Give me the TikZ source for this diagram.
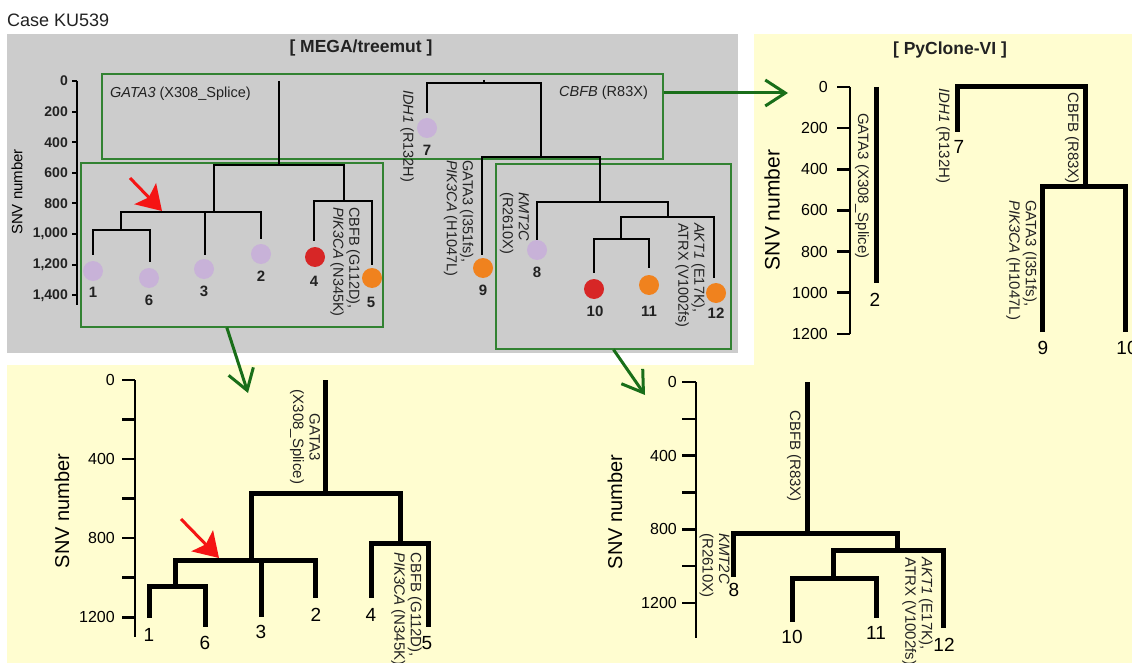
\documentclass[tikz,border=0pt]{standalone}
\usepackage{fontspec}
\setmainfont{Liberation Sans}
\usetikzlibrary{arrows.meta,calc}
\definecolor{gpanel}{RGB}{204,204,204}
\definecolor{ypanel}{RGB}{255,253,208}
\definecolor{lav}{RGB}{200,178,216}
\definecolor{redc}{RGB}{215,38,38}
\definecolor{orc}{RGB}{240,130,30}
\definecolor{gboxc}{RGB}{50,130,50}
\definecolor{garrowc}{RGB}{25,110,25}
\definecolor{rarrowc}{RGB}{245,20,20}
\definecolor{tdark}{RGB}{34,34,34}
\newcommand{\myfs}[1]{\fontsize{#1}{#1}\selectfont}
\begin{document}
\begin{tikzpicture}[x=1pt,y=-1pt,
  tl/.style={line width=1.8pt, line join=miter},
  pl/.style={line width=5pt, line join=miter},
  axm/.style={line width=2pt},
  axy/.style={line width=2.6pt},
  leafc/.style={circle, inner sep=0pt, minimum size=20pt},
  mnum/.style={font=\bfseries\myfs{15}, text=tdark, inner sep=0pt},
  ynum/.style={font=\myfs{19}, text=black, inner sep=0pt},
  mtick/.style={font=\bfseries\myfs{14}, text=tdark, anchor=east, inner sep=0pt},
  ytick/.style={font=\myfs{16}, text=black, anchor=east, inner sep=0pt},
  mgl/.style={font=\fontsize{14.5}{16}\selectfont, text=tdark, rotate=-90, anchor=west, align=left, inner sep=0pt},
  ygl/.style={font=\fontsize{15}{16.5}\selectfont, text=tdark, rotate=-90, anchor=west, align=left, inner sep=0pt},
  gboxs/.style={draw=gboxc, line width=1.2pt, inner sep=0pt},
  garrow/.style={draw=garrowc, line width=3pt, -{Straight Barb[length=20pt,width=26pt]}},
  rarrow/.style={draw=rarrowc, line width=3pt, -{Stealth[length=24pt,width=30pt,inset=5pt]}},
  snv/.style={rotate=90, inner sep=0pt, text=black}
]
\useasboundingbox (0,0) rectangle (1132,663);
\clip (0,0) rectangle (1132,663);
\fill[white] (0,0) rectangle (1132,663);
\fill[gpanel] (7,34) rectangle (738,353);
\fill[ypanel] (754,34) rectangle (1132,365);
\fill[ypanel] (7,365) rectangle (1132,663);

% headings
\node[anchor=west, inner sep=0pt, font=\myfs{18}, text=tdark] (case) at (7,20) {Case KU539};
\node[inner sep=0pt, font=\bfseries\myfs{17.5}, text=tdark] (tmega) at (361,48) {[ MEGA/treemut ]};
\node[inner sep=0pt, font=\bfseries\myfs{17.5}, text=tdark] (tpy) at (950,50) {[ PyClone-VI ]};

% ===== MEGA panel =====
\node[gboxs, minimum width=561pt, minimum height=85pt] (topbox) at (382.5,116.5) {};
\node[gboxs, minimum width=302pt, minimum height=164pt] (leftbox) at (232,245) {};
\node[gboxs, minimum width=235pt, minimum height=185pt] (rightbox) at (613.5,256.5) {};

\coordinate (max0) at (76.5,81);
\coordinate (max1) at (76.5,305);
\draw[axm] (max0) -- (max1);
\foreach \v/\l in {0/0,200/200,400/400,600/600,800/800,1000/{1,000},1200/{1,200},1400/{1,400}} {
  \coordinate (mt\v) at (76.5,81+\v*0.153);
  \draw[axm] (mt\v) -- ++(-4.5,0);
  \node[mtick] (mtl\v) at (68,81+\v*0.153) {\l};
}
\node[snv, font=\myfs{15}] (msnv) at (17,192) {SNV number};

\node[anchor=west, inner sep=0pt, font=\myfs{14.5}, text=tdark] (mg1) at (110,94) {\textit{GATA3} (X308\_Splice)};
\node[anchor=west, inner sep=0pt, font=\myfs{14.5}, text=tdark] (mg2) at (559,93) {\textit{CBFB} (R83X)};

% left MEGA subtree
\coordinate (m0) at (279,81);
\coordinate (mA) at (279,165);
\coordinate (mB) at (214,212);
\coordinate (mC) at (344,201);
\coordinate (mD) at (121,230);
\coordinate (ml1) at (93,255);
\coordinate (ml6) at (150,262);
\coordinate (ml3) at (205,255);
\coordinate (ml2) at (261,239);
\coordinate (ml4) at (314,241);
\coordinate (ml5) at (372,265);
\draw[tl] (m0) -- (mA) (mA) -| (mB) (mA) -| (mC) (mB) -| (mD) (mB) -| (ml3) (mB) -| (ml2)
  (mD) -| (ml1) (mD) -| (ml6) (mC) -| (ml4) (mC) -| (ml5);

% right MEGA subtree
\coordinate (n0) at (484,80);
\coordinate (nR) at (484,83);
\coordinate (ml7) at (427,113);
\coordinate (nE) at (541,157);
\coordinate (ml9) at (482,255);
\coordinate (nF) at (600,202);
\coordinate (ml8) at (537,240);
\coordinate (nG) at (668,217);
\coordinate (nH) at (621,239);
\coordinate (ml12) at (714,278);
\coordinate (ml10) at (594,273);
\coordinate (ml11) at (649,268);
\draw[tl] (n0) -- (nR) (nR) -| (ml7) (nR) -| (nE) (nE) -| (ml9) (nE) -| (nF) (nF) -| (ml8)
  (nF) -| (nG) (nG) -| (nH) (nG) -| (ml12) (nH) -| (ml10) (nH) -| (ml11);

% circles
\node[leafc, fill=lav] (c1) at (93,271) {};
\node[leafc, fill=lav] (c6) at (149,278) {};
\node[leafc, fill=lav] (c3) at (204,269) {};
\node[leafc, fill=lav] (c2) at (261,254) {};
\node[leafc, fill=redc] (c4) at (315,257) {};
\node[leafc, fill=orc] (c5) at (372,278) {};
\node[leafc, fill=lav] (c7) at (427,128) {};
\node[leafc, fill=orc] (c9) at (483,268) {};
\node[leafc, fill=lav] (c8) at (537,250) {};
\node[leafc, fill=redc] (c10) at (594,289) {};
\node[leafc, fill=orc] (c11) at (649,285) {};
\node[leafc, fill=orc] (c12) at (716,293) {};

\node[mnum] (n1) at (93,292) {1};
\node[mnum] (n6) at (149,300) {6};
\node[mnum] (n3) at (204,291) {3};
\node[mnum] (n2) at (261,276) {2};
\node[mnum] (n4) at (314,281) {4};
\node[mnum] (n5) at (371,302) {5};
\node[mnum] (n7) at (427,150) {7};
\node[mnum] (n9) at (483,290) {9};
\node[mnum] (n8) at (537,272) {8};
\node[mnum] (n10) at (595,311) {10};
\node[mnum] (n11) at (649,311) {11};
\node[mnum] (n12) at (716,313) {12};

\node[mgl] (mlab7) at (407,90) {\textit{IDH1} (R132H)};
\node[mgl] (mlab45) at (345,207) {CBFB (G112D),\\\textit{PIK3CA} (N345K)};
\node[mgl] (mlab9) at (458.5,160) {GATA3 (I351fs),\\\textit{PIK3CA} (H1047L)};
\node[mgl] (mlab8) at (514.5,192) {\textit{KMT2C}\\(R2610X)};
\node[mgl] (mlab12) at (690,223) {\textit{AKT1} (E17K),\\ATRX (V1002fs)};

\coordinate (ra1s) at (130,178);
\coordinate (ra1e) at (162,211);
\draw[rarrow] (ra1s) -- (ra1e);

% ===== PyClone panel =====
\coordinate (pax0) at (850,87);
\coordinate (pax1) at (850,334);
\draw[axy] (pax0) -- (pax1);
\foreach \v in {0,200,400,600,800,1000,1200} {
  \coordinate (pt\v) at (850,87+\v*0.2058);
  \draw[axy] (pt\v) -- ++(-13,0);
  \node[ytick] (ptl\v) at (828,87+\v*0.2058) {\v};
}
\node[snv, font=\myfs{21}] (psnv) at (772,210) {SNV number};

\coordinate (p2top) at (876,87);
\coordinate (p2) at (876,283);
\draw[pl] (p2top) -- (p2);
\coordinate (pR) at (1021,87);
\coordinate (p7) at (957,132);
\coordinate (pE) at (1085,187);
\coordinate (p9) at (1042,332);
\coordinate (p10) at (1125,332);
\draw[pl] (p7) |- (pR) -| (pE);
\draw[pl] (p9) |- (pE) -| (p10);

\node[ynum] (pn2) at (875,300) {2};
\node[ynum] (pn7) at (959,147) {7};
\node[ynum] (pn9) at (1043,348) {9};
\node[ynum] (pn10) at (1127,348) {10};

\node[ygl] (pl2) at (862,113) {GATA3 (X308\_Splice)};
\node[ygl] (pl7) at (943,88) {\textit{IDH1} (R132H)};
\node[ygl] (plE) at (1072,92) {CBFB (R83X)};
\node[ygl] (pl9) at (1021.5,200) {GATA3 (I351fs),\\\textit{PIK3CA} (H1047L)};

% ===== bottom-left panel =====
\coordinate (bax0) at (135,380);
\coordinate (bax1) at (135,637);
\draw[axy] (bax0) -- (bax1);
\foreach \v in {0,200,400,600,800,1000,1200} {
  \coordinate (bt\v) at (135,380+\v*0.1977);
  \draw[axy] (bt\v) -- ++(-13,0);
}
\foreach \v in {0,400,800,1200} {
  \node[ytick] (btl\v) at (115,380+\v*0.1977) {\v};
}
\node[snv, font=\myfs{20}] (bsnv) at (62,511) {SNV number};

\coordinate (b0) at (325,380);
\coordinate (bA) at (325,493);
\coordinate (bB) at (251,560);
\coordinate (bC) at (400,543);
\coordinate (bD) at (175,586);
\coordinate (b1) at (149,618);
\coordinate (b6) at (205,627);
\coordinate (b3) at (261,617);
\coordinate (b2) at (315,598);
\coordinate (b4) at (371,598);
\coordinate (b5) at (428,627);
\draw[pl] (b0) -- (bA) (bA) -| (bB) (bA) -| (bC) (bB) -| (bD) (bB) -| (b3) (bB) -| (b2)
  (bC) -| (b4) (bC) -| (b5) (bD) -| (b1) (bD) -| (b6);

\node[ynum] (bn1) at (149,635) {1};
\node[ynum] (bn6) at (205,643) {6};
\node[ynum] (bn3) at (261,632) {3};
\node[ynum] (bn2) at (316,615) {2};
\node[ynum] (bn4) at (371,615) {4};
\node[ynum] (bn5) at (427,643) {5};

\node[ygl, anchor=center, align=center] (blg) at (305,437) {GATA3\\(X308\_Splice)};
\node[ygl] (bl45) at (406.5,552) {CBFB (G112D),\\\textit{PIK3CA} (N345K)};

\coordinate (ra2s) at (181,519);
\coordinate (ra2e) at (219,558);
\draw[rarrow] (ra2s) -- (ra2e);

% ===== bottom-right panel =====
\coordinate (rax0) at (696,382);
\coordinate (rax1) at (696,638);
\draw[axy] (rax0) -- (rax1);
\foreach \v in {0,200,400,600,800,1000,1200} {
  \coordinate (rt\v) at (696,382+\v*0.184);
  \draw[axy] (rt\v) -- ++(-14,0);
}
\foreach \v in {0,400,800,1200} {
  \node[ytick] (rtl\v) at (677,382+\v*0.184) {\v};
}
\node[snv, font=\myfs{20}] (rsnv) at (615,512) {SNV number};

\coordinate (r0) at (807,382);
\coordinate (rA) at (807,533);
\coordinate (r8) at (733,577);
\coordinate (rB) at (897,550);
\coordinate (rC) at (833,578);
\coordinate (r10) at (792,622);
\coordinate (r11) at (876,618);
\coordinate (r12) at (943,628);
\draw[pl] (r0) -- (rA) (rA) -| (r8) (rA) -| (rB) (rB) -| (rC) (rB) -| (r12) (rC) -| (r10) (rC) -| (r11);

\node[ynum] (rn8) at (734,590) {8};
\node[ynum] (rn10) at (792,637) {10};
\node[ynum] (rn11) at (876,633) {11};
\node[ynum] (rn12) at (944,645) {12};

\node[ygl] (rlA) at (794,410) {CBFB (R83X)};
\node[ygl] (rl8) at (714.5,533) {\textit{KMT2C}\\(R2610X)};
\node[ygl] (rl12) at (917.5,557) {\textit{AKT1} (E17K),\\ATRX (V1002fs)};

% ===== green arrows =====
\coordinate (g1e) at (788,93);
\draw[garrow] (topbox.east |- g1e) -- (g1e);
\coordinate (g2e) at (248,393);
\draw[garrow] ($(leftbox.south west)!0.483!(leftbox.south east)$) -- (g2e);
\coordinate (g3e) at (645,395);
\draw[garrow] (rightbox.south) -- (g3e);
\end{tikzpicture}
\end{document}
